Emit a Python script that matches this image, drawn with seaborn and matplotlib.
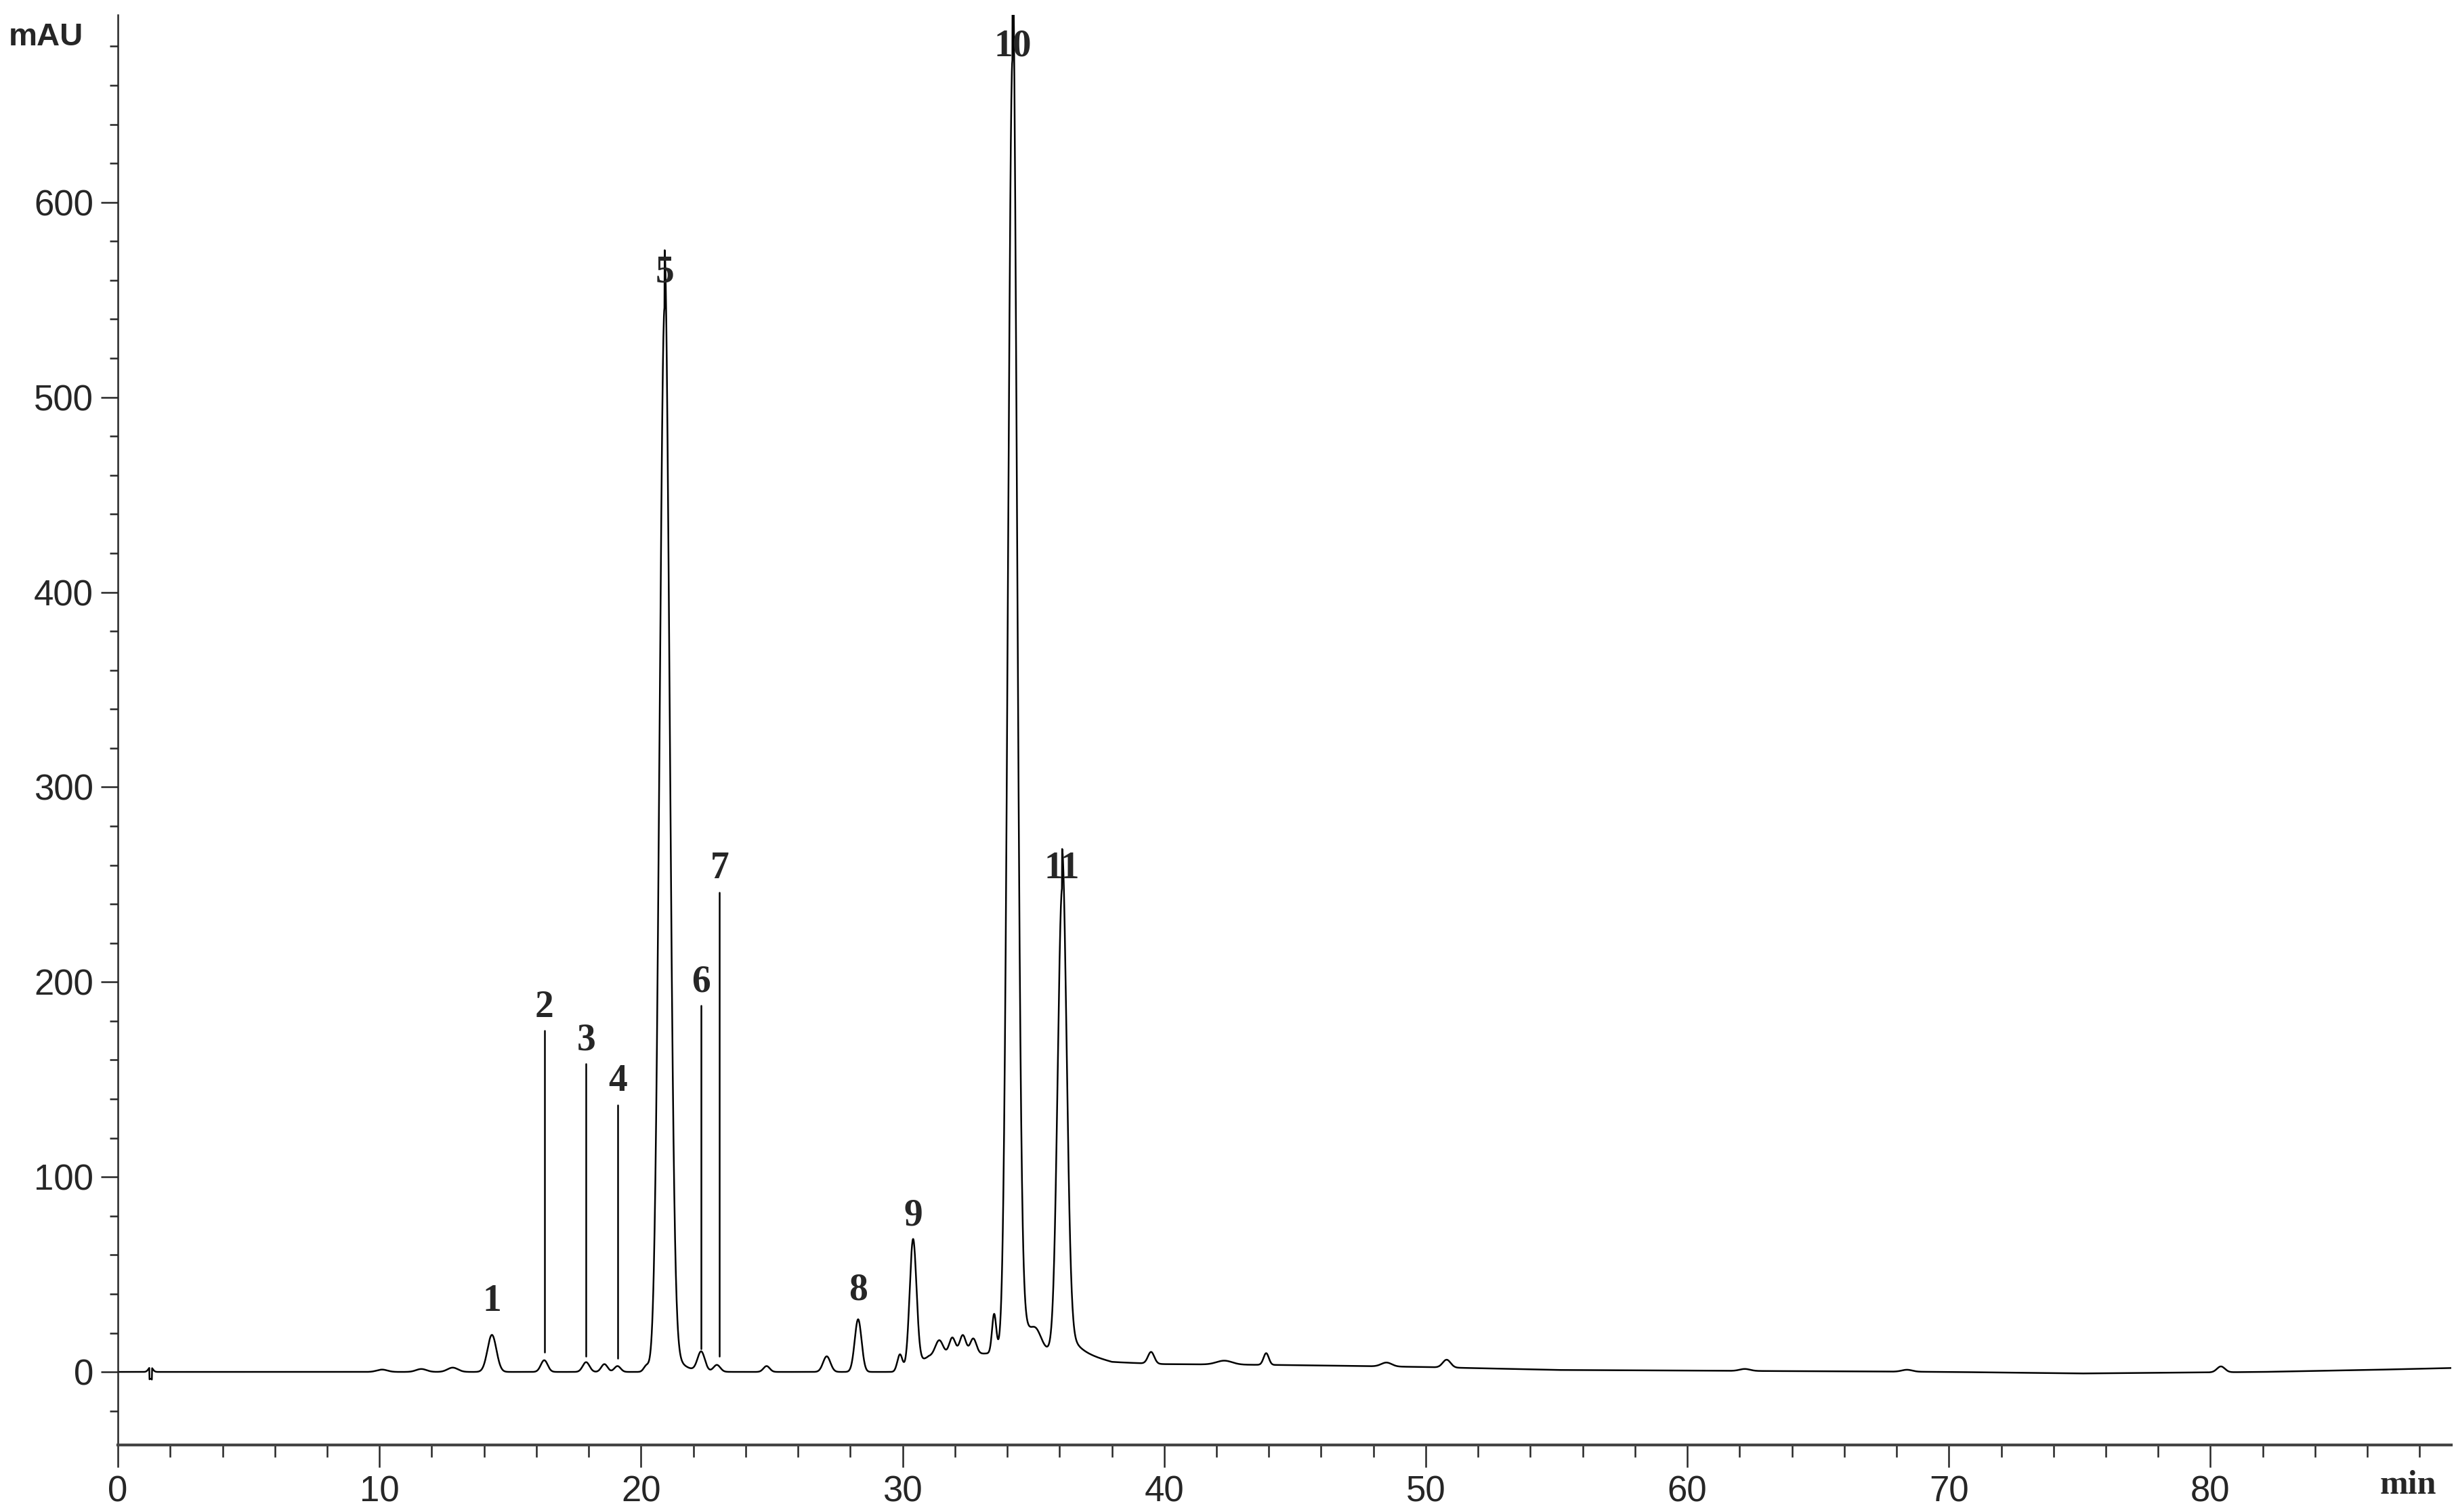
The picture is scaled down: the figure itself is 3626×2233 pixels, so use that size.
import numpy as np
import pandas as pd
import matplotlib
matplotlib.use("Agg")
import matplotlib.pyplot as plt
import seaborn as sns
from matplotlib.ticker import MultipleLocator

# peak table: retention time (min), height (mAU), width (sigma, min)
peak_rt = [1.25, 10.1, 11.6, 12.8, 14.3, 16.3, 17.9, 18.6, 19.1, 20.2, 20.9, 22.3, 22.9, 24.8, 27.1, 28.3,
           29.9, 30.4, 31.4, 31.9, 32.3, 32.7, 33.5, 34.2, 35.1, 36.1, 39.5, 42.3, 43.9, 48.5, 50.8, 62.2, 68.4, 80.4]
peak_h = [2.5, 1.2, 1.5, 2.2, 19.0, 6.0, 5.0, 4.0, 3.0, 3.0, 546.0, 10.0, 3.5, 3.0, 8.0, 27.0,
          9.0, 65.0, 8.0, 9.0, 10.0, 8.0, 20.0, 663.0, 8.0, 238.0, 6.0, 2.0, 6.0, 2.0, 4.0, 1.0, 1.0, 3.0]
peak_w = [0.08, 0.2, 0.2, 0.2, 0.17, 0.13, 0.13, 0.12, 0.12, 0.1, 0.19, 0.14, 0.13, 0.12, 0.14, 0.13,
          0.1, 0.13, 0.15, 0.12, 0.12, 0.12, 0.08, 0.17, 0.2, 0.17, 0.12, 0.3, 0.1, 0.2, 0.15, 0.2, 0.2, 0.15]
# elevated baseline after the main peaks (time, mAU)
base_t = [0, 30, 31, 34, 36.5, 38, 40, 45, 50, 55, 70, 75, 82, 86, 89.2]
base_v = [0, 0, 8, 10, 10, 5, 4, 3.5, 2.5, 1, 0, -0.8, 0, 1, 2]

# annotations: label, x, line bottom, line top (None = no line, label at y)
lab_txt = ["1", "2", "3", "4", "5", "6", "7", "8", "9", "10", "11"]
lab_x = [14.3, 16.3, 17.9, 19.1, 20.9, 22.3, 23.0, 28.3, 30.4, 34.2, 36.1]
lab_lo = [None, 10, 8, 7, None, 12, 8, None, None, None, None]
lab_hi = [24, 175, 158, 137, 552, 188, 246, 30, 68, 668, 246]

t = np.linspace(0, 89.2, 9000)
y = np.interp(t, base_t, base_v)
for rt, h, w in zip(peak_rt, peak_h, peak_w):
    y = y + h * np.exp(-0.5 * ((t - rt) / w) ** 2)
# tails on large peaks
y = y + np.where(t > 34.2, 60 * np.exp(-(t - 34.2) / 0.35), 0) * (t > 34.2)
y = y + np.where(t > 20.9, 30 * np.exp(-(t - 20.9) / 0.35), 0) * (t > 20.9)
y = y + np.where(t > 36.1, 20 * np.exp(-(t - 36.1) / 0.4), 0) * (t > 36.1)
y = np.where((t > 1.2) & (t < 1.3), y - 6, y)
df = pd.DataFrame({"t": t, "mAU": y})

sns.set_style("ticks")
plt.rcParams["font.family"] = ["Liberation Sans", "DejaVu Sans"]
fig = plt.figure(figsize=(36.26, 22.33), dpi=100)
ax = fig.add_axes([0.048, 0.0443, 0.95, 0.9457])
sns.lineplot(data=df, x="t", y="mAU", ax=ax, color="black", linewidth=1.8)

for txt, x, lo, hi in zip(lab_txt, lab_x, lab_lo, lab_hi):
    if lo is not None:
        ax.plot([x, x], [lo, hi], color="black", linewidth=1.8)
    ax.text(x, hi + 3, txt, ha="center", va="bottom", family="Liberation Serif",
            fontweight="bold", fontsize=40)

ax.set_xlim(0, 89.2)
ax.set_ylim(-37.5, 696)
ax.xaxis.set_major_locator(MultipleLocator(10))
ax.xaxis.set_minor_locator(MultipleLocator(2))
ax.yaxis.set_major_locator(MultipleLocator(100))
ax.yaxis.set_minor_locator(MultipleLocator(20))
ax.set_xticks(range(0, 81, 10))
ax.set_yticks(range(0, 601, 100))
ax.tick_params(axis="x", which="major", length=24, width=1.8, labelsize=38, pad=8)
ax.tick_params(axis="x", which="minor", length=13, width=1.8)
ax.tick_params(axis="y", which="major", length=18, width=1.8, labelsize=38, pad=8)
ax.tick_params(axis="y", which="minor", length=9, width=1.8)
for lbl in ax.get_xticklabels() + ax.get_yticklabels():
    lbl.set_family(["Liberation Sans Narrow", "Liberation Sans"])
sns.despine(ax=ax)
ax.spines["left"].set_linewidth(1.8)
ax.spines["bottom"].set_linewidth(3)
ax.spines["bottom"].set_color("#444444")
ax.set_xlabel("")
ax.set_ylabel("")
fig.text(0.0035, 0.985, "mAU", ha="left", va="top", fontsize=34, fontweight="bold")
fig.text(0.992, 0.007, "min", ha="right", va="bottom", fontsize=36, fontweight="bold",
         family="Liberation Serif")
fig.savefig("out.png", dpi=100)
